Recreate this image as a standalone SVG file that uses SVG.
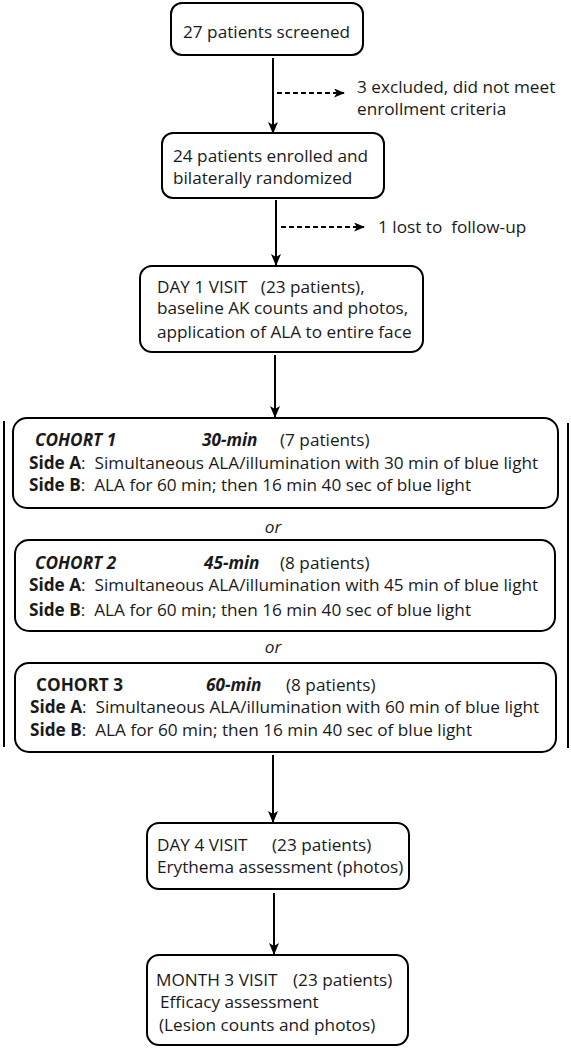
<svg xmlns="http://www.w3.org/2000/svg" width="571" height="1050" viewBox="0 0 571 1050">
<defs>
<marker id="ah" viewBox="0 0 12 10" refX="11" refY="5" markerWidth="12" markerHeight="10" markerUnits="userSpaceOnUse" orient="auto">
<path d="M0,0 L12,5 L0,10 L3,5 z" fill="#000"/>
</marker>
<marker id="ah2" viewBox="0 0 12 10" refX="11" refY="5" markerWidth="11" markerHeight="9" markerUnits="userSpaceOnUse" orient="auto">
<path d="M0,0 L12,5 L0,10 L3,5 z" fill="#000"/>
</marker>
<style>
.box{fill:#fff;stroke:#000;stroke-width:2}
.t{font-family:"Open Sans","Liberation Sans",sans-serif;font-size:17.2px;fill:#1a1a1a}
.b{font-weight:bold}
.i{font-style:italic}
.ln{stroke:#000;stroke-width:2;fill:none}
.ar{stroke:#000;stroke-width:2;fill:none;marker-end:url(#ah)}
.da{stroke:#000;stroke-width:2;fill:none;stroke-dasharray:5,3;marker-end:url(#ah2)}
</style>
</defs>
<rect width="571" height="1050" fill="#fff"/>
<g id="connectors">
<line class="ar" x1="273" y1="58" x2="273" y2="133"/>
<line class="da" x1="277" y1="93" x2="344" y2="93"/>
<line class="ar" x1="276" y1="200" x2="276" y2="265"/>
<line class="da" x1="281" y1="227" x2="364" y2="227"/>
<line class="ar" x1="275" y1="355" x2="275" y2="417"/>
<line class="ln" x1="4" y1="421" x2="4" y2="747"/>
<line class="ln" x1="568" y1="423" x2="568" y2="748"/>
<line class="ar" x1="273" y1="755" x2="273" y2="822"/>
<line class="ar" x1="274" y1="893" x2="274" y2="954"/>
</g>
<g id="screened">
<rect class="box" x="171" y="3" width="192" height="52" rx="11"/>
<text class="t" x="183" y="38">27 patients screened</text>
</g>
<g id="excluded">
<text class="t" x="357" y="93">3 excluded, did not meet</text>
<text class="t" x="357" y="115">enrollment criteria</text>
</g>
<g id="enrolled">
<rect class="box" x="162" y="133" width="222" height="65" rx="11"/>
<text class="t" x="173" y="162">24 patients enrolled and</text>
<text class="t" x="173" y="184">bilaterally randomized</text>
</g>
<g id="lost">
<text class="t" x="378" y="233" xml:space="preserve">1 lost to  follow-up</text>
</g>
<g id="day1">
<rect class="box" x="140" y="266" width="283" height="86" rx="12"/>
<text class="t" x="157" y="293" xml:space="preserve">DAY 1 VISIT   (23 patients),</text>
<text class="t" x="157" y="314">baseline AK counts and photos,</text>
<text class="t" x="157" y="338">application of ALA to entire face</text>
</g>
<g id="cohort1">
<rect class="box" x="13" y="418" width="545" height="90" rx="14"/>
<text class="t b i" x="35" y="446">COHORT 1</text>
<text class="t b i" x="202" y="446">30-min</text>
<text class="t" x="280" y="446">(7 patients)</text>
<text class="t" x="29" y="469" xml:space="preserve"><tspan class="b">Side A</tspan>:  Simultaneous ALA/illumination with 30 min of blue light</text>
<text class="t" x="29" y="491" xml:space="preserve"><tspan class="b">Side B</tspan>:  ALA for 60 min; then 16 min 40 sec of blue light</text>
</g>
<g id="or1">
<text class="t i" x="273" y="533" text-anchor="middle">or</text>
</g>
<g id="cohort2">
<rect class="box" x="15" y="540" width="540" height="91" rx="14"/>
<text class="t b i" x="35" y="569">COHORT 2</text>
<text class="t b i" x="204" y="569">45-min</text>
<text class="t" x="280" y="569">(8 patients)</text>
<text class="t" x="29" y="591" xml:space="preserve"><tspan class="b">Side A</tspan>:  Simultaneous ALA/illumination with 45 min of blue light</text>
<text class="t" x="29" y="616" xml:space="preserve"><tspan class="b">Side B</tspan>:  ALA for 60 min; then 16 min 40 sec of blue light</text>
</g>
<g id="or2">
<text class="t i" x="273" y="653" text-anchor="middle">or</text>
</g>
<g id="cohort3">
<rect class="box" x="15" y="663" width="541" height="89" rx="14"/>
<text class="t b" x="36" y="691">COHORT 3</text>
<text class="t b i" x="206" y="691">60-min</text>
<text class="t" x="286" y="691">(8 patients)</text>
<text class="t" x="30" y="713" xml:space="preserve"><tspan class="b">Side A</tspan>:  Simultaneous ALA/illumination with 60 min of blue light</text>
<text class="t" x="30" y="736" xml:space="preserve"><tspan class="b">Side B</tspan>:  ALA for 60 min; then 16 min 40 sec of blue light</text>
</g>
<g id="day4">
<rect class="box" x="147" y="823" width="262" height="66" rx="12"/>
<text class="t" x="157" y="851">DAY 4 VISIT</text>
<text class="t" x="272" y="851">(23 patients)</text>
<text class="t" x="157" y="873">Erythema assessment (photos)</text>
</g>
<g id="month3">
<rect class="box" x="147" y="955" width="261" height="90" rx="12"/>
<text class="t" x="156" y="986">MONTH 3 VISIT</text>
<text class="t" x="293" y="986">(23 patients)</text>
<text class="t" x="160" y="1008">Efficacy assessment</text>
<text class="t" x="159" y="1031">(Lesion counts and photos)</text>
</g>
</svg>
